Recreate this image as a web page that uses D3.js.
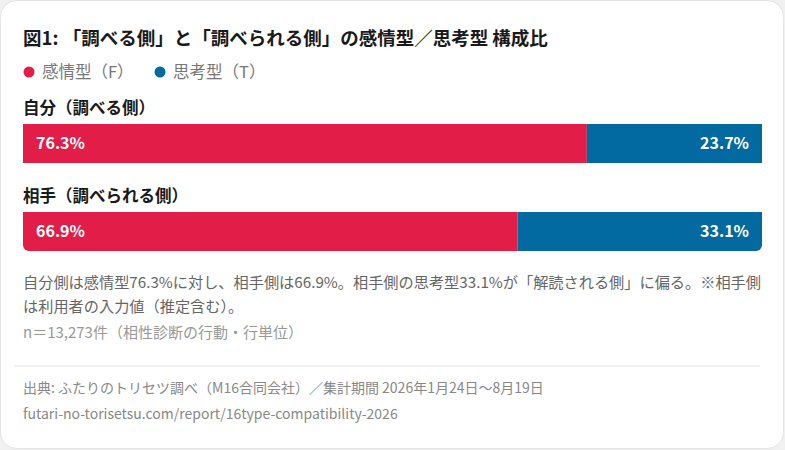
<!DOCTYPE html>
<html>
<head>
<meta charset="utf-8">
<script src="https://cdn.jsdelivr.net/npm/d3@7"></script>
<style>
  html, body { margin: 0; padding: 0; background: #f1f1f1; }
  svg { display: block; font-family: "Noto Sans CJK JP", "Noto Sans", sans-serif; }
</style>
</head>
<body>
<svg width="785" height="450"></svg>
<script>
const width = 785, height = 450;
const svg = d3.select("svg");

// data
const groups = ["自分（調べる側）", "相手（調べられる側）"];
const feeling = [76.3, 66.9];
const thinking = [23.7, 33.1];
const seriesNames = ["感情型（F）", "思考型（T）"];
const colors = ["#e11d48", "#0369a1"];

// card
svg.append("rect")
  .attr("x", 0.5).attr("y", 0.5)
  .attr("width", 783).attr("height", 448)
  .attr("rx", 16)
  .attr("fill", "#fff")
  .attr("stroke", "#e3e3e3");

svg.append("text")
  .attr("x", 23).attr("y", 45)
  .attr("font-size", 18.5).attr("font-weight", 700).attr("fill", "#1a1a1a")
  .text("図1: 「調べる側」と「調べられる側」の感情型／思考型 構成比");

// legend
const legend = svg.append("g").selectAll("g")
  .data(seriesNames)
  .join("g")
  .attr("transform", (d, i) => `translate(${[29, 160][i]},72)`);
legend.append("circle").attr("r", 5.5).attr("fill", (d, i) => colors[i]);
legend.append("text")
  .attr("x", 13).attr("dy", "0.36em")
  .attr("font-size", 16.5).attr("fill", "#777")
  .text(d => d);

// bars
const x = d3.scaleLinear().domain([0, 100]).range([23, 762]);
const y = d3.scaleBand().domain(groups).range([88, 264]);
const barH = 39;

const rows = groups.map((g, i) => ({ g, i, f: feeling[i], t: thinking[i] }));

const row = svg.append("g").selectAll("g")
  .data(rows)
  .join("g")
  .attr("transform", d => `translate(0,${y(d.g)})`);

row.append("text")
  .attr("x", 23).attr("y", 26)
  .attr("font-size", 16.5).attr("font-weight", 700).attr("fill", "#1a1a1a")
  .text(d => d.g);

const top0 = 36;
// clip per bar (second bar has rounded bottom corners)
const defs = svg.append("defs");
rows.forEach(d => {
  const r = d.i === 1 ? 6 : 0;
  const x0 = x(0), x1 = x(100), y0 = top0, y1 = top0 + barH;
  const p = d3.path();
  p.moveTo(x0, y0);
  p.lineTo(x1, y0);
  p.lineTo(x1, y1 - r);
  if (r) p.arcTo(x1, y1, x1 - r, y1, r);
  p.lineTo(x0 + r, y1);
  if (r) p.arcTo(x0, y1, x0, y1 - r, r);
  p.closePath();
  defs.append("clipPath").attr("id", "clip" + d.i)
    .append("path").attr("d", p.toString());
});

const bar = row.append("g").attr("clip-path", d => `url(#clip${d.i})`);
bar.append("rect")
  .attr("x", x(0)).attr("y", top0)
  .attr("width", d => x(d.f) - x(0)).attr("height", barH)
  .attr("fill", colors[0]);
bar.append("rect")
  .attr("x", d => x(d.f)).attr("y", top0)
  .attr("width", d => x(100) - x(d.f)).attr("height", barH)
  .attr("fill", colors[1]);

row.append("text")
  .attr("x", x(0) + 13).attr("y", top0 + barH / 2).attr("dy", "0.36em")
  .attr("font-size", 16).attr("font-weight", 700).attr("fill", "#fff")
  .text(d => d.f.toFixed(1) + "%");
row.append("text")
  .attr("x", x(100) - 13).attr("y", top0 + barH / 2).attr("dy", "0.36em")
  .attr("text-anchor", "end")
  .attr("font-size", 16).attr("font-weight", 700).attr("fill", "#fff")
  .text(d => d.t.toFixed(1) + "%");

// notes
const notes = [
  "自分側は感情型76.3%に対し、相手側は66.9%。相手側の思考型33.1%が「解読される側」に偏る。※相手側",
  "は利用者の入力値（推定含む）。"
];
svg.append("g").selectAll("text")
  .data(notes)
  .join("text")
  .attr("x", 23).attr("y", (d, i) => 288 + i * 24)
  .attr("font-size", 15.2).attr("fill", "#666")
  .text(d => d);

svg.append("text")
  .attr("x", 23).attr("y", 338)
  .attr("font-size", 15).attr("fill", "#999")
  .text("n＝13,273件（相性診断の行動・行単位）");

svg.append("line")
  .attr("x1", 15).attr("x2", 760)
  .attr("y1", 366).attr("y2", 366)
  .attr("stroke", "#e3e3e3");

svg.append("text")
  .attr("x", 23).attr("y", 393)
  .attr("font-size", 14).attr("fill", "#888")
  .text("出典: ふたりのトリセツ調べ（M16合同会社）／集計期間 2026年1月24日〜8月19日");
svg.append("text")
  .attr("x", 23).attr("y", 419)
  .attr("font-size", 14).attr("fill", "#888")
  .text("futari-no-torisetsu.com/report/16type-compatibility-2026");
</script>
</body>
</html>
